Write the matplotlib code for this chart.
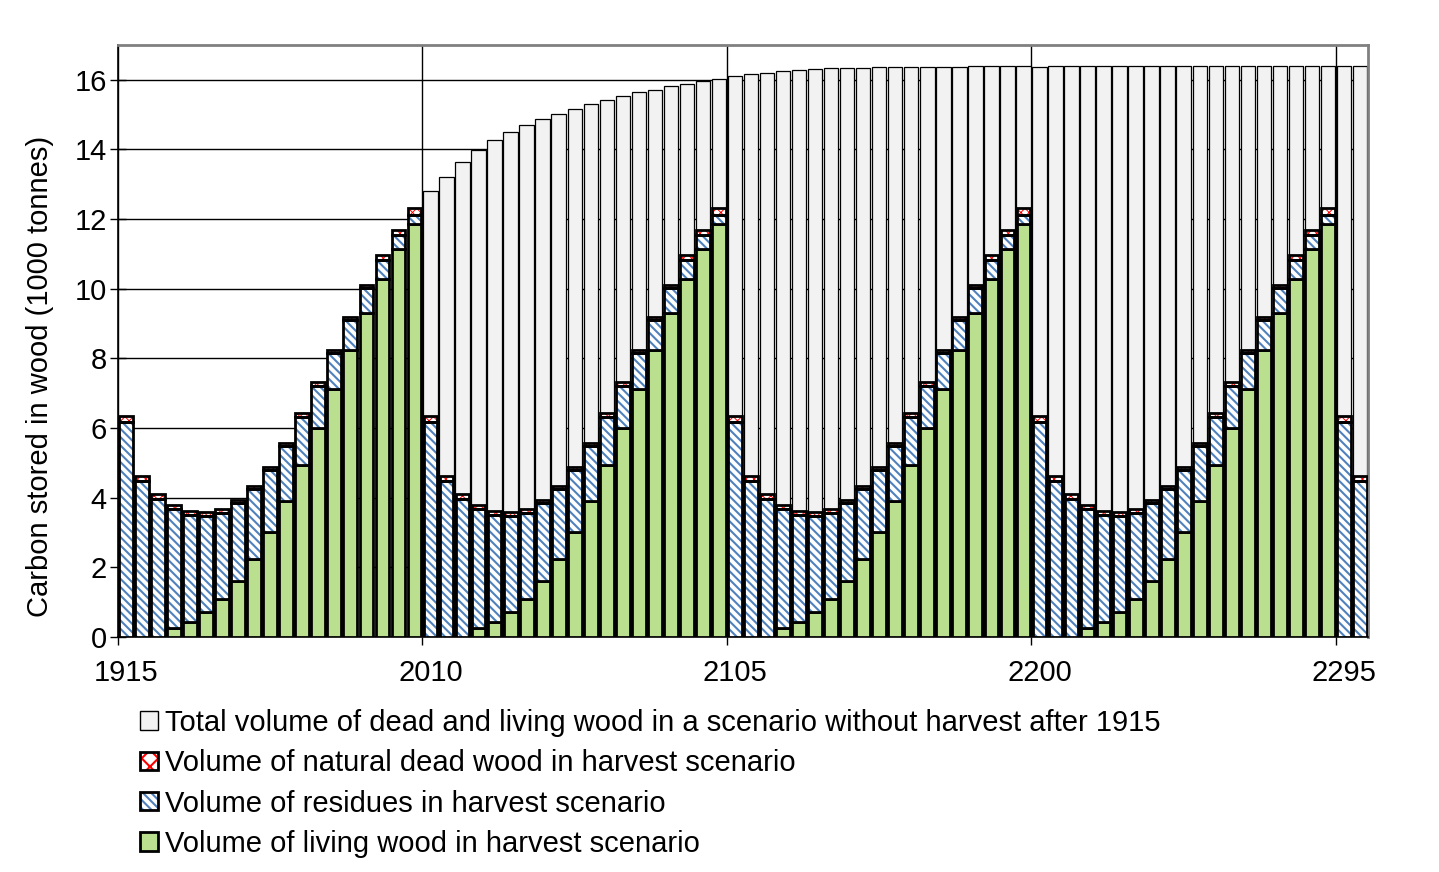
import matplotlib.pyplot as plt
from matplotlib.patches import Patch

plt.rcParams['font.family'] = ['Liberation Sans', 'DejaVu Sans']
plt.rcParams['hatch.linewidth'] = 1.5

# one harvest rotation = 19 bars (95 years)
living_cycle = [0, 0, 0, 0.25, 0.44, 0.72, 1.10, 1.61, 2.24, 3.02, 3.90, 4.93,
                5.99, 7.11, 8.23, 9.29, 10.29, 11.13, 11.85]
residues_cycle = [6.18, 4.48, 3.96, 3.44, 3.06, 2.76, 2.47, 2.23, 2.00, 1.77, 1.59,
                  1.39, 1.22, 1.04, 0.87, 0.72, 0.55, 0.40, 0.28]
dead_cycle = [0.17, 0.15, 0.15, 0.09, 0.12, 0.11, 0.11, 0.10, 0.10, 0.09, 0.09,
              0.10, 0.10, 0.09, 0.09, 0.10, 0.12, 0.15, 0.19]

# the rotation repeats four times, then two bars of a fifth (1915..2300)
living = living_cycle * 4 + living_cycle[:2]
residues = residues_cycle * 4 + residues_cycle[:2]
dead = dead_cycle * 4 + dead_cycle[:2]

# no-harvest scenario, shown from 2010 on
no_harvest_start = 19
total_no_harvest = [12.80, 13.21, 13.64, 13.98, 14.28, 14.50, 14.70, 14.87, 15.02,
                    15.16, 15.30, 15.41, 15.53, 15.64, 15.72, 15.81, 15.89, 15.98,
                    16.03, 16.10, 16.18, 16.21, 16.24, 16.27, 16.30, 16.33, 16.35,
                    16.35, 16.36, 16.38, 16.38, 16.38, 16.38, 16.38, 16.39, 16.39,
                    16.39, 16.39, 16.38, 16.40, 16.40, 16.40, 16.40, 16.40, 16.40,
                    16.40, 16.40, 16.40, 16.40, 16.40, 16.40, 16.40, 16.40, 16.40,
                    16.40, 16.40, 16.40, 16.40, 16.40]

tick_labels = ['1915', '2010', '2105', '2200', '2295']
tick_index = [0, 19, 38, 57, 76]

GREEN = '#B9DF8F'
BLUE = '#4F81BD'
GREY = '#F2F2F2'
FS = 21
RES_HATCH = '\\' * 4
DEAD_HATCH = 'x' * 4

n = len(living)
x = [i + 0.5 for i in range(n)]
w = 0.86

fig = plt.figure(figsize=(14.39, 8.72), dpi=100)
ax = fig.add_axes([118 / 1439, 1 - 637 / 872, 1250 / 1439, 592 / 872])

# grey "no harvest" bars behind
xg = x[no_harvest_start:no_harvest_start + len(total_no_harvest)]
ax.bar(xg, total_no_harvest, width=0.9, color=GREY, edgecolor='black',
       linewidth=0.9, zorder=2)

bottom_res = living
bottom_dead = [a + b for a, b in zip(living, residues)]

# living wood
ax.bar(x, living, width=w, color=GREEN, edgecolor='black', linewidth=2, zorder=3)
# residues: hatch first, then black outline
with plt.rc_context({'hatch.linewidth': 1.5}):
    ax.bar(x, residues, width=w, bottom=bottom_res, color='white', edgecolor=BLUE,
           hatch=RES_HATCH, linewidth=0, zorder=3)
ax.bar(x, residues, width=w, bottom=bottom_res, fill=False, edgecolor='black',
       linewidth=2, zorder=4)
# natural dead wood
with plt.rc_context({'hatch.linewidth': 0.7}):
    ax.bar(x, dead, width=w, bottom=bottom_dead, color='white', edgecolor='red',
           hatch=DEAD_HATCH, linewidth=0, zorder=3)
ax.bar(x, dead, width=w, bottom=bottom_dead, fill=False, edgecolor='black',
       linewidth=2, zorder=4)

ax.set_xlim(0, n)
ax.set_ylim(0, 17)
ax.set_yticks(range(0, 17, 2))
ax.tick_params(axis='y', labelsize=FS, direction='inout', length=12, width=1, pad=2)

ax.set_xticks(tick_index)
ax.set_xticklabels([])
ax.set_xticks([i + 0.5 for i in tick_index], minor=True)
ax.set_xticklabels(tick_labels, minor=True)
ax.tick_params(axis='x', which='major', direction='out', length=6, width=1)
ax.tick_params(axis='x', which='minor', length=0, labelsize=FS, pad=16)

ax.grid(True, which='major', color='black', linewidth=1)
ax.set_axisbelow(True)

for side in ['left', 'bottom']:
    ax.spines[side].set_color('black')
    ax.spines[side].set_linewidth(1.2)
for side in ['top', 'right']:
    ax.spines[side].set_color('#808080')
    ax.spines[side].set_linewidth(2)

ax.set_ylabel('Carbon stored in wood (1000 tonnes)', fontsize=FS)
ax.yaxis.set_label_coords(-0.051, 0.44)

with plt.rc_context({'hatch.linewidth': 0.8}):
    dead_handle = Patch(facecolor='white', edgecolor='red', hatch='xx', linewidth=0)
with plt.rc_context({'hatch.linewidth': 1.5}):
    res_handle = Patch(facecolor='white', edgecolor=BLUE, hatch=RES_HATCH, linewidth=0)
handles = [
    Patch(facecolor=GREY, edgecolor='black', linewidth=1),
    (dead_handle, Patch(fill=False, edgecolor='black', linewidth=2)),
    (res_handle, Patch(fill=False, edgecolor='black', linewidth=2)),
    Patch(facecolor=GREEN, edgecolor='black', linewidth=2),
]
labels = [
    'Total volume of dead and living wood in a scenario without harvest after 1915',
    'Volume of natural dead wood in harvest scenario',
    'Volume of residues in harvest scenario',
    'Volume of living wood in harvest scenario',
]
fig.legend(handles, labels, loc='upper left', bbox_to_anchor=(140 / 1439, 1 - 709 / 872),
           frameon=False, fontsize=FS, borderpad=0, borderaxespad=0,
           handlelength=0.6, handleheight=0.6, handletextpad=0.25,
           labelspacing=0.42)

fig.savefig('out.png', dpi=100)
plt.close(fig)
